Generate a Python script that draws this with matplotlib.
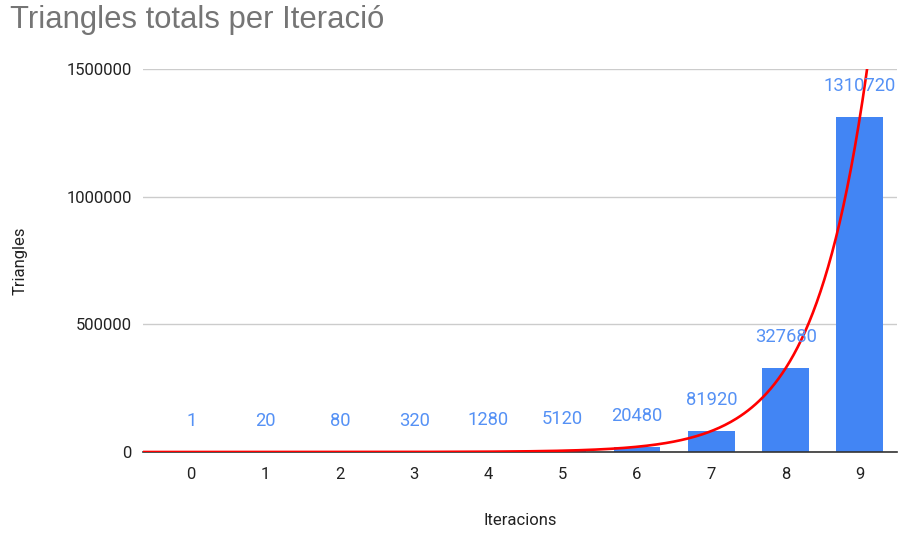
import numpy as np
import matplotlib
matplotlib.use("Agg")
import matplotlib.pyplot as plt

# Total triangles at each iteration
iterations = [0, 1, 2, 3, 4, 5, 6, 7, 8, 9]
triangles = [1, 20, 80, 320, 1280, 5120, 20480, 81920, 327680, 1310720]
y_ticks = [0, 500000, 1000000, 1500000]

BAR_COLOR = "#4285F4"
LABEL_COLOR = "#5591f5"
TREND_COLOR = "#ff0000"

plt.rcParams["font.family"] = ["Roboto", "DejaVu Sans"]

fig = plt.figure(figsize=(9, 5.35), dpi=100)
ax = fig.add_axes([143 / 900, 1 - 452 / 535, (897 - 143) / 900, (452 - 69) / 535])

x = np.array(iterations, dtype=float)
y = np.array(triangles, dtype=float)

ax.bar(x, y, width=0.63, color=BAR_COLOR, zorder=2)

# Value labels above each bar
for xi, yi in zip(x, y):
    ax.annotate(f"{int(yi)}", (xi, yi), xytext=(0, 22.5), textcoords="offset points",
                ha="center", va="center", fontsize=13.2, color=LABEL_COLOR, zorder=4)

# Exponential trendline (least squares weighted towards linear-space residuals)
b, a = np.polyfit(x, np.log(y), 1, w=y)
xs = np.linspace(-0.65, 9.6, 400)
ax.plot(xs, np.exp(a + b * xs), color=TREND_COLOR, lw=1.9, zorder=3, clip_on=True)

ax.set_xlim(-0.65, 9.5)
ax.set_ylim(0, 1500000)
ax.set_yticks(y_ticks)
ax.set_yticklabels([str(t) for t in y_ticks])
ax.set_xticks(x)
ax.set_xticklabels([str(i) for i in iterations])

ax.grid(axis="y", color="#cccccc", lw=1, zorder=0)
ax.set_axisbelow(True)
for side in ["top", "right", "left"]:
    ax.spines[side].set_visible(False)
ax.spines["bottom"].set_color("#333333")
ax.spines["bottom"].set_linewidth(1.2)
ax.spines["bottom"].set_zorder(2.5)

ax.tick_params(axis="both", length=0, labelsize=12, colors="#222222")
ax.tick_params(axis="y", pad=8)
ax.tick_params(axis="x", pad=11)

ax.set_ylabel("Triangles", fontsize=12, color="#222222", labelpad=28)
ax.set_xlabel("Iteracions", fontsize=12, color="#222222", labelpad=22)

fig.text(10 / 900, 1 - 20 / 535, "Triangles totals per Iteració", fontsize=22.3,
         color="#757575", ha="left", va="center",
         family=["Liberation Sans", "DejaVu Sans"])

fig.savefig("out.png", dpi=100, facecolor="white")
